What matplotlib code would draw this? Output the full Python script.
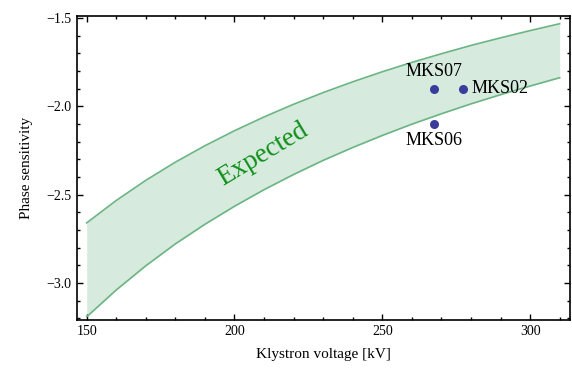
import matplotlib
matplotlib.use("Agg")
import matplotlib.pyplot as plt
from matplotlib.ticker import MultipleLocator, FixedLocator, FuncFormatter

# Expected band
voltage = [150, 160, 170, 180, 190, 200, 210, 220, 230, 240, 250, 260, 270, 280, 290, 300, 310]
upper = [-2.660, -2.533, -2.419, -2.316, -2.223, -2.138, -2.060, -1.988, -1.922, -1.861,
         -1.804, -1.751, -1.702, -1.655, -1.612, -1.571, -1.532]
lower = [-3.192, -3.040, -2.903, -2.779, -2.668, -2.566, -2.472, -2.386, -2.306, -2.233,
         -2.165, -2.101, -2.042, -1.986, -1.934, -1.885, -1.838]

# Measurements
names = ["MKS07", "MKS02", "MKS06"]
meas_v = [267.4, 277.3, 267.4]
meas_s = [-1.90, -1.90, -2.10]

serif = ["Liberation Serif", "DejaVu Serif"]

fig = plt.figure(figsize=(5.72, 3.71), dpi=100)
ax = fig.add_axes([0.134, 0.1375, 0.8625, 0.8195])

band_line = "#6ab583"
band_fill = "#d6eadd"
ax.fill_between(voltage, lower, upper, color=band_fill, linewidth=0, zorder=1)
ax.plot(voltage, upper, color=band_line, lw=1.2, zorder=2, solid_joinstyle="round")
ax.plot(voltage, lower, color=band_line, lw=1.2, zorder=2, solid_joinstyle="round")

ax.plot(meas_v, meas_s, "o", color="#3b3b9c", markersize=6.5, zorder=3, markeredgewidth=0)

offsets = {"MKS07": (0, 6, "center", "bottom"),
           "MKS02": (6, 0, "left", "center"),
           "MKS06": (0, -6, "center", "top")}
for n, v, s in zip(names, meas_v, meas_s):
    dx, dy, ha, va = offsets[n]
    ax.annotate(n, (v, s), xytext=(dx, dy), textcoords="offset points",
                ha=ha, va=va, fontsize=13, family=serif, color="black")

ax.text(209.7, -2.27, "Expected", rotation=31, ha="center", va="center",
        fontsize=19.5, family=serif, color="#0e8f18", zorder=4)

ax.set_xlim(146.6, 313.5)
ax.set_ylim(-3.21, -1.488)

ax.xaxis.set_major_locator(FixedLocator([150, 200, 250, 300]))
ax.xaxis.set_minor_locator(MultipleLocator(10))
ax.yaxis.set_major_locator(FixedLocator([-3.0, -2.5, -2.0, -1.5]))
ax.yaxis.set_minor_locator(MultipleLocator(0.1))
ax.yaxis.set_major_formatter(FuncFormatter(lambda y, p: ("\u2212" + "%.1f" % abs(y)) if y < 0 else "%.1f" % y))

ax.tick_params(which="both", direction="in", top=True, right=True, labelsize=10, width=1.0, color="black")
ax.tick_params(which="major", length=4.5)
ax.tick_params(which="minor", length=2.5)
for lab in ax.get_xticklabels() + ax.get_yticklabels():
    lab.set_family(serif)

for sp in ax.spines.values():
    sp.set_linewidth(1.2)
    sp.set_color("black")

ax.set_xlabel("Klystron voltage [kV]", fontsize=11, family=serif, labelpad=7)
ax.set_ylabel("Phase sensitivity", fontsize=11, family=serif, labelpad=10)

fig.savefig("out.png", dpi=100)
